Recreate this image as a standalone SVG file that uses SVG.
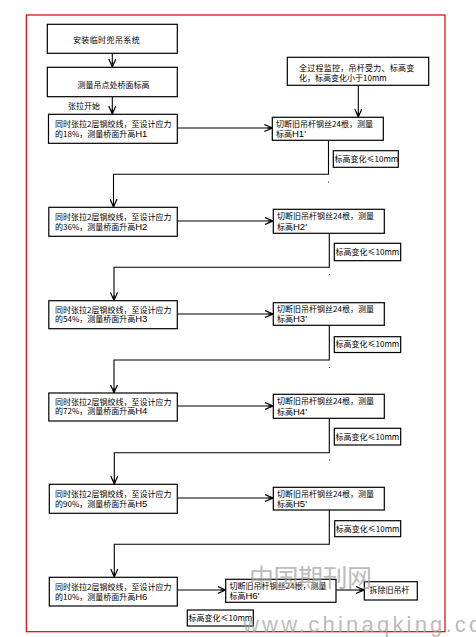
<svg xmlns="http://www.w3.org/2000/svg" width="476" height="637" viewBox="0 0 476 637">
<style>
.box{fill:#fff;stroke:#000;stroke-width:1.2}
.t{font-family:"Noto Sans CJK SC","Noto Sans",sans-serif;font-size:8px;fill:#000}
.h{font-family:"Liberation Sans",sans-serif;font-size:9.5px}
.c{fill:none;stroke:#000;stroke-width:1.1}
.wm{font-family:"Liberation Serif","Noto Sans CJK SC",serif;fill:#a0a0a0;opacity:0.7}
</style>
<defs>
<marker id="ar" markerWidth="10" markerHeight="8" refX="8" refY="4" orient="auto" markerUnits="userSpaceOnUse">
<path d="M0,0.5 L8,4 L0,7.5 M3,4 L8,4" fill="none" stroke="#000" stroke-width="1.2"/>
</marker>
</defs>
<rect width="476" height="637" fill="#fff"/>
<rect x="26.3" y="15" width="418.7" height="616.7" fill="none" stroke="#e00000" stroke-width="1.2"/>

<g id="connectors">
<line class="c" x1="112.3" y1="53.3" x2="112.3" y2="67" marker-end="url(#ar)"/>
<line class="c" x1="112.3" y1="96.7" x2="112.3" y2="114" marker-end="url(#ar)"/>
<line class="c" x1="358.3" y1="85.3" x2="358.3" y2="117" marker-end="url(#ar)"/>
<line class="c" x1="177.3" y1="128" x2="272.3" y2="128" marker-end="url(#ar)"/>
<polyline class="c" points="328.5,140.3 328.5,174.3 113.5,174.3 113.5,207" marker-end="url(#ar)"/>
<line class="c" x1="177.3" y1="221" x2="273" y2="221" marker-end="url(#ar)"/>
<polyline class="c" points="329.3,233.3 329.3,267.3 114,267.3 114,300.4" marker-end="url(#ar)"/>
<line class="c" x1="177.3" y1="314" x2="273" y2="314" marker-end="url(#ar)"/>
<polyline class="c" points="329.3,325 329.3,360 114,360 114,392.7" marker-end="url(#ar)"/>
<line class="c" x1="177.3" y1="406" x2="273" y2="406" marker-end="url(#ar)"/>
<polyline class="c" points="329.3,418.3 329.3,452.7 114.3,452.7 114.3,484" marker-end="url(#ar)"/>
<line class="c" x1="177.3" y1="498" x2="273" y2="498" marker-end="url(#ar)"/>
<polyline class="c" points="329.3,510 329.3,544.3 114.3,544.3 114.3,577" marker-end="url(#ar)"/>
<line class="c" x1="177.3" y1="590" x2="225.5" y2="590" marker-end="url(#ar)"/>
<line class="c" x1="336" y1="590" x2="364" y2="590" marker-end="url(#ar)"/>
</g>

<g id="dots" fill="#000">
<rect x="328" y="181.5" width="1" height="1"/>
<rect x="329" y="274" width="1" height="1"/>
<rect x="329" y="367" width="1" height="1"/>
<rect x="329" y="459.5" width="1" height="1"/>
</g>

<g id="n1"><rect class="box" x="47.3" y="24.3" width="130" height="29"/>
<text class="t" x="106.5" y="43" text-anchor="middle" letter-spacing="0.4">安装临时兜吊系统</text></g>
<g id="n2"><rect class="box" x="47.3" y="67.3" width="130" height="29.4"/>
<text class="t" x="113.5" y="87.5" text-anchor="middle">测量吊点处桥面标高</text></g>
<text id="lbl" class="t" x="68" y="109">张拉开始</text>

<g id="monitor"><rect class="box" x="287.3" y="57.3" width="141.4" height="28"/>
<text class="t" x="299" y="70.5" letter-spacing="0.25">全过程监控，吊杆受力、标高变</text>
<text class="t" x="299" y="80.5">化，标高变化小于10mm</text></g>

<g id="s1"><rect class="box" x="48.5" y="114.3" width="128.8" height="29"/>
<text class="t" x="55" y="126.5">同时张拉2层钢绞线，至设计应力</text>
<text class="t" x="55" y="136.5">的18%，测量桥面升高<tspan class="h">H1</tspan></text></g>
<g id="r1"><rect class="box" x="272.3" y="117.3" width="111" height="23"/>
<text class="t" x="276" y="126.5">切断旧吊杆钢丝24根，测量</text>
<text class="t" x="276" y="137">标高<tspan class="h">H1'</tspan></text></g>
<g id="k1"><rect class="box" x="333.3" y="150.7" width="65" height="16.6"/>
<text class="t" x="334.5" y="161.8">标高变化≤10mm</text></g>

<g id="s2"><rect class="box" x="48.8" y="207.3" width="128.5" height="29"/>
<text class="t" x="55" y="219.5">同时张拉2层钢绞线，至设计应力</text>
<text class="t" x="55" y="229.5">的36%，测量桥面升高<tspan class="h">H2</tspan></text></g>
<g id="r2"><rect class="box" x="273.3" y="209.3" width="111" height="24"/>
<text class="t" x="277" y="218.5">切断旧吊杆钢丝24根，测量</text>
<text class="t" x="277" y="229.5">标高<tspan class="h">H2'</tspan></text></g>
<g id="k2"><rect class="box" x="334.3" y="243.3" width="66.4" height="17.4"/>
<text class="t" x="335.5" y="254.8">标高变化≤10mm</text></g>

<g id="s3"><rect class="box" x="48.8" y="300.7" width="128.5" height="28"/>
<text class="t" x="55" y="312.5">同时张拉2层钢绞线，至设计应力</text>
<text class="t" x="55" y="322">的54%，测量桥面升高<tspan class="h">H3</tspan></text></g>
<g id="r3"><rect class="box" x="273.3" y="302.7" width="111" height="22.6"/>
<text class="t" x="277" y="312">切断旧吊杆钢丝24根，测量</text>
<text class="t" x="277" y="322.3">标高<tspan class="h">H3'</tspan></text></g>
<g id="k3"><rect class="box" x="334.3" y="336.7" width="66.4" height="15.8"/>
<text class="t" x="335.5" y="347.3">标高变化≤10mm</text></g>

<g id="s4"><rect class="box" x="48.8" y="393" width="128.5" height="28"/>
<text class="t" x="55" y="404.8">同时张拉2层钢绞线，至设计应力</text>
<text class="t" x="55" y="414.3">的72%，测量桥面升高<tspan class="h">H4</tspan></text></g>
<g id="r4"><rect class="box" x="273.3" y="394.3" width="111" height="24"/>
<text class="t" x="277" y="404">切断旧吊杆钢丝24根，测量</text>
<text class="t" x="277" y="414.5">标高<tspan class="h">H4'</tspan></text></g>
<g id="k4"><rect class="box" x="334.3" y="428.3" width="66.4" height="16.7"/>
<text class="t" x="335.5" y="439.5">标高变化≤10mm</text></g>

<g id="s5"><rect class="box" x="49.3" y="484.3" width="128" height="29"/>
<text class="t" x="55" y="496.5">同时张拉2层钢绞线，至设计应力</text>
<text class="t" x="55" y="506.5">的90%，测量桥面升高<tspan class="h">H5</tspan></text></g>
<g id="r5"><rect class="box" x="273.3" y="487.3" width="111" height="22.7"/>
<text class="t" x="277" y="496.8">切断旧吊杆钢丝24根，测量</text>
<text class="t" x="277" y="507">标高<tspan class="h">H5'</tspan></text></g>
<g id="k5"><rect class="box" x="334.7" y="520.7" width="66" height="16"/>
<text class="t" x="335.8" y="531.5">标高变化≤10mm</text></g>

<g id="s6"><rect class="box" x="49.3" y="577.3" width="128" height="28.7"/>
<text class="t" x="55" y="589.5">同时张拉2层钢绞线，至设计应力</text>
<text class="t" x="55" y="599.5">的10%，测量桥面升高<tspan class="h">H6</tspan></text></g>
<g id="r6"><rect class="box" x="225.7" y="579.3" width="110.3" height="23"/>
<text class="t" x="229.5" y="588.5">切断旧吊杆钢丝24根，测量</text>
<text class="t" x="229.5" y="599">标高<tspan class="h">H6'</tspan></text></g>
<g id="k6"><rect class="box" x="187.3" y="610" width="66" height="16"/>
<text class="t" x="188.5" y="620.8">标高变化≤10mm</text></g>
<g id="end"><rect class="box" x="364.3" y="581.7" width="53" height="18.3"/>
<text class="t" x="369.5" y="593">拆除旧吊杆</text></g>

<g id="watermark">
<text class="wm" x="249" y="587" font-size="25" letter-spacing="-0.5">中国期刊网</text>
<text class="wm" x="243" y="632" font-size="22" style="font-family:'Liberation Sans',sans-serif" letter-spacing="3.2">www.chinaqking.com</text>
</g>
</svg>
